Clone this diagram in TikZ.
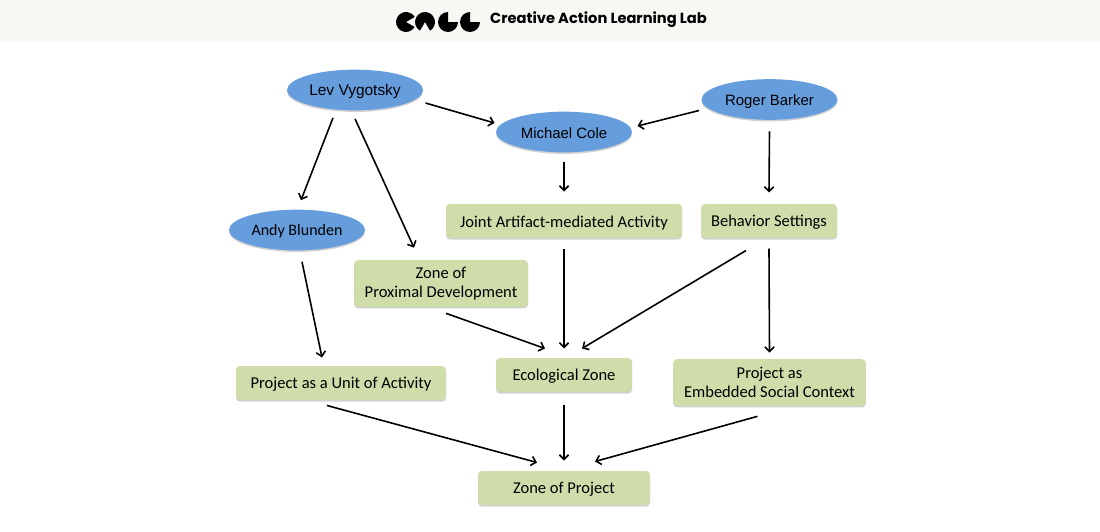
\documentclass[tikz,border=0pt]{standalone}
\usepackage{fontspec}
\setmainfont{Carlito}
\newfontfamily\arialfont{Liberation Sans}
\newfontfamily\logofont{Poppins}
\usetikzlibrary{arrows.meta,shapes.geometric,shadows}

\definecolor{headbg}{RGB}{247,248,244}
\definecolor{ellblue}{RGB}{101,157,221}
\definecolor{boxgreen}{RGB}{207,221,171}

\tikzset{every picture/.style={line width=0.75pt},
  person/.style={ellipse,fill=ellblue,inner sep=0pt,minimum width=102pt,minimum height=30.5pt,font=\fontsize{11.2}{13}\selectfont,
    execute at begin node={\rule{0pt}{10.6pt}},
    drop shadow={shadow xshift=0pt,shadow yshift=-1.2pt,fill=black,opacity=0.18}},
  concept/.style={rectangle,rounded corners=3pt,fill=boxgreen,inner sep=0pt,minimum height=25.5pt,align=center,font=\fontsize{12.4}{14.4}\selectfont,
    execute at begin node={\rule{0pt}{11pt}},
    drop shadow={shadow xshift=0pt,shadow yshift=-1.2pt,fill=black,opacity=0.18}},
  link/.style={-{Straight Barb[length=3.5pt,width=7pt]},line width=1.2pt,color=black},
  logopart/.style={fill=black}}

\begin{document}
\begin{tikzpicture}[x=0.75pt,y=0.75pt,yscale=-1,xscale=1]
\useasboundingbox (0,0) rectangle (1100,532);

%Header band
\fill [headbg] (0,0) rectangle (1100,42);
\fill [logopart] (406,22) -- +(30:10) arc (30:330:10) -- cycle;
\fill [logopart] (425,22) -- +(120:10) arc (120:420:10) -- cycle;
\fill [logopart] (448,22) -- +(0:10) arc (0:270:10) -- cycle;
\fill [logopart] (470,22) -- +(0:10) arc (0:270:10) -- cycle;
% Text Node
\node (title) at (598.5,20) [inner sep=0pt] [font=\logofont\bfseries\fontsize{11}{12}\selectfont] {Creative Action Learning Lab};

% Ellipses
\node (lev) at (355,90) [person,font=\fontsize{11.6}{13}\selectfont] {\arialfont Lev Vygotsky};
\node (michael) at (564,132) [person] {\arialfont Michael Cole};
\node (roger) at (769.5,99.5) [person] {\arialfont Roger Barker};
\node (andy) at (297,230) [person,font=\fontsize{12}{14}\selectfont] {Andy Blunden};

% Boxes
\node (joint) at (564,221) [concept,minimum width=177pt] {Joint Artifact-mediated Activity};
\node (behavior) at (769,221) [concept,minimum width=102pt] {Behavior Settings};
\node (zpd) at (441,283.5) [concept,minimum width=130.5pt,minimum height=35pt] {Zone of\\Proximal Development};
\node (unit) at (341,383) [concept,minimum width=157.5pt] {Project as a Unit of Activity};
\node (eco) at (564,375) [concept,minimum width=102pt] {Ecological Zone};
\node (embedded) at (769.5,382.5) [concept,minimum width=144.5pt,minimum height=35pt] {Project as\\Embedded Social Context};
\node (zop) at (564,488) [concept,minimum width=129pt] {Zone of Project};

%Straight Lines
\draw [link] ([shift={(-22,7)}]lev.south) -- ([shift={(4,-9)}]andy.north);
\draw [link] ([shift={(0,8)}]lev.south) -- ([shift={(-27,-12)}]zpd.north);
\draw [link] ([shift={(2,13)}]lev.east) -- ([shift={(-1,-9)}]michael.west);
\draw [link] ([shift={(-2,11)}]roger.west) -- ([shift={(5,-6)}]michael.east);
\draw [link] ([shift={(0,9)}]michael.south) -- ([shift={(0,-12)}]joint.north);
\draw [link] ([shift={(0,11)}]roger.south) -- ([shift={(0,-11)}]behavior.north);
\draw [link] ([shift={(5,11)}]andy.south) -- ([shift={(-19,-8)}]unit.north);
\draw [link] ([shift={(0,10)}]joint.south) -- ([shift={(0,-9)}]eco.north);
\draw [link] ([shift={(5,6)}]zpd.south) -- ([shift={(-19,-9)}]eco.north);
\draw [link] ([shift={(-23,12)}]behavior.south) -- ([shift={(18,-9)}]eco.north);
\draw [link] ([shift={(0,10)}]behavior.south) -- ([shift={(0,-6)}]embedded.north);
\draw [link] ([shift={(-14,5)}]unit.south) -- ([shift={(-27,-8)}]zop.north);
\draw [link] ([shift={(0,12)}]eco.south) -- ([shift={(0,-10)}]zop.north);
\draw [link] ([shift={(-12,10)}]embedded.south) -- ([shift={(31,-9)}]zop.north);

\end{tikzpicture}
\end{document}
